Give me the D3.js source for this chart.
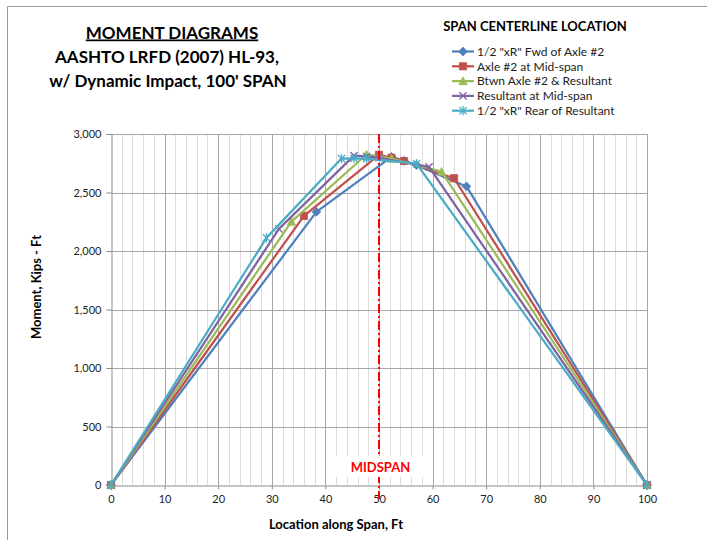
<!DOCTYPE html>
<html><head><meta charset="utf-8">
<script src="https://cdn.jsdelivr.net/npm/d3@7"></script>
<style>
html,body{margin:0;padding:0;background:#fff;}
svg{display:block;font-family:Lato,"Open Sans",sans-serif;}
</style></head>
<body><svg id="c" width="707" height="540"></svg>
<script>
const seriesNames = ['1/2 "xR" Fwd of Axle #2','Axle #2 at Mid-span','Btwn Axle #2 & Resultant','Resultant at Mid-span','1/2 "xR" Rear of Resultant'];
const blueX = [0, 38.33, 52.33, 54.67, 57, 66.33, 100];
const blueY = [0, 2335, 2804, 2771, 2734, 2552, 0];
const redX = [0, 36, 50, 52.33, 54.67, 64, 100];
const redY = [0, 2300, 2822, 2797, 2769, 2622, 0];
const greenX = [0, 33.67, 47.67, 50, 52.33, 61.67, 100];
const greenY = [0, 2251, 2825, 2809, 2790, 2678, 0];
const purpleX = [0, 31.33, 45.33, 47.67, 50, 59.33, 100];
const purpleY = [0, 2189, 2815, 2808, 2797, 2719, 0];
const cyanX = [0, 29, 43, 45.33, 47.67, 57, 100];
const cyanY = [0, 2112, 2790, 2792, 2790, 2747, 0];
const xTicks = [0,10,20,30,40,50,60,70,80,90,100];
const yTicks = [0,500,1000,1500,2000,2500,3000];
const midspanX = 50;

const colors = ['#4F81BD','#C0504D','#9BBB59','#8064A2','#4BACC6'];
const markers = ['diamond','square','triangle','x','star'];
const allX = [blueX, redX, greenX, purpleX, cyanX];
const allY = [blueY, redY, greenY, purpleY, cyanY];

const svg = d3.select('#c');
// outer frame
svg.append('line').attr('x1',7.5).attr('x2',707).attr('y1',6.5).attr('y2',6.5).attr('stroke','#9a9a9a').attr('stroke-width',1);
svg.append('line').attr('x1',7.5).attr('x2',7.5).attr('y1',6.5).attr('y2',540).attr('stroke','#9a9a9a').attr('stroke-width',1);

const x = d3.scaleLinear().domain([0,100]).range([111,647]);
const y = d3.scaleLinear().domain([0,3000]).range([485,134]);

// minor vertical grid
const minor = d3.range(2,100,2).filter(v => v%10 !== 0);
svg.append('g').selectAll('line').data(minor).join('line')
  .attr('x1',d=>Math.round(x(d))+0.5).attr('x2',d=>Math.round(x(d))+0.5)
  .attr('y1',y(3000)).attr('y2',y(0)).attr('stroke','#dcdcdc').attr('stroke-width',1);
// major vertical grid
svg.append('g').selectAll('line').data(xTicks.slice(1)).join('line')
  .attr('x1',d=>Math.round(x(d))+0.5).attr('x2',d=>Math.round(x(d))+0.5)
  .attr('y1',y(3000)).attr('y2',y(0)).attr('stroke','#a6a6a6').attr('stroke-width',1);
// horizontal grid
svg.append('g').selectAll('line').data(yTicks.slice(1)).join('line')
  .attr('x1',x(0)).attr('x2',x(100))
  .attr('y1',d=>Math.round(y(d))+0.5).attr('y2',d=>Math.round(y(d))+0.5)
  .attr('stroke','#a6a6a6').attr('stroke-width',1);

// axes
const xAxis = d3.axisBottom(x).tickValues(xTicks).tickSize(4).tickPadding(6);
const yAxis = d3.axisLeft(y).tickValues(yTicks).tickSize(5).tickPadding(5).tickFormat(d3.format(','));
const gx = svg.append('g').attr('transform',`translate(0,${Math.round(y(0))+0.5})`).call(xAxis);
const gy = svg.append('g').attr('transform',`translate(${Math.round(x(0))+0.5},0)`).call(yAxis);
[gx,gy].forEach(g=>{
  g.select('.domain').attr('stroke','#8c8c8c');
  g.selectAll('.tick line').attr('stroke','#8c8c8c');
  g.selectAll('.tick text').attr('fill','#222').attr('font-size','11px').attr('font-family','Lato, sans-serif');
});

function markerPath(type){
  const s = 3.6;
  switch(type){
    case 'diamond': return `M0,${-s-0.8}L${s+0.8},0L0,${s+0.8}L${-s-0.8},0Z`;
    case 'square': return `M${-s},${-s}H${s}V${s}H${-s}Z`;
    case 'triangle': return `M0,${-s-0.6}L${s+0.6},${s}L${-s-0.6},${s}Z`;
    case 'x': return `M${-s},${-s}L${s},${s}M${-s},${s}L${s},${-s}`;
    case 'star': return `M${-s},${-s}L${s},${s}M${-s},${s}L${s},${-s}M0,${-s-1}V${s+1}`;
  }
}

const line = d3.line().x(d=>x(d[0])).y(d=>y(d[1]));
allX.forEach((xs,i)=>{
  const pts = xs.map((v,j)=>[v, allY[i][j]]);
  const g = svg.append('g');
  g.append('path').attr('d',line(pts)).attr('fill','none').attr('stroke',colors[i]).attr('stroke-width',2.25).attr('stroke-linejoin','round');
  const isLine = markers[i]==='x'||markers[i]==='star';
  g.selectAll('path.m').data(pts).join('path').attr('class','m')
    .attr('transform',d=>`translate(${x(d[0])},${y(d[1])})`)
    .attr('d',markerPath(markers[i]))
    .attr('fill',isLine?'none':colors[i])
    .attr('stroke',colors[i]).attr('stroke-width',isLine?1.3:0.8);
});

// midspan dash-dot line
svg.append('line').attr('x1',x(midspanX)).attr('x2',x(midspanX)).attr('y1',y(3000)).attr('y2',y(0)+14)
  .attr('stroke','#FF0000').attr('stroke-width',2).attr('stroke-dasharray','9,3,2,3');
// label box
svg.append('rect').attr('x',x(midspanX)-44).attr('y',456).attr('width',88).attr('height',21).attr('fill','#fff');
svg.append('text').attr('x',x(midspanX)+1.5).attr('y',471.5).attr('text-anchor','middle')
  .attr('fill','#FF0000').attr('font-weight','bold').attr('font-size','13px').text('MIDSPAN');

// titles
const t = svg.append('text').attr('text-anchor','middle').attr('font-weight','bold').attr('font-size','17px').attr('fill','#000');
t.append('tspan').attr('x',172).attr('y',38.5).attr('text-decoration','underline').text('MOMENT DIAGRAMS');
t.append('tspan').attr('x',167).attr('y',62.5).text('AASHTO LRFD (2007) HL-93,');
t.append('tspan').attr('x',168).attr('y',86.5).text("w/ Dynamic Impact, 100' SPAN");

// axis titles
svg.append('text').attr('x',336).attr('y',529).attr('text-anchor','middle').attr('font-weight','bold').attr('font-size','13px').text('Location along Span, Ft');
svg.append('text').attr('transform','translate(41,287) rotate(-90)').attr('text-anchor','middle').attr('font-weight','bold').attr('font-size','13px').text('Moment, Kips - Ft');

// legend
svg.append('text').attr('x',535).attr('y',31).attr('text-anchor','middle').attr('font-weight','bold').attr('font-size','13px').text('SPAN CENTERLINE LOCATION');
const lg = svg.append('g');
seriesNames.forEach((n,i)=>{
  const yy = 51.5 + i*14.8;
  lg.append('line').attr('x1',452).attr('x2',474).attr('y1',yy).attr('y2',yy).attr('stroke',colors[i]).attr('stroke-width',2.25);
  const isLine = markers[i]==='x'||markers[i]==='star';
  lg.append('path').attr('transform',`translate(463,${yy})`).attr('d',markerPath(markers[i]))
    .attr('fill',isLine?'none':colors[i]).attr('stroke',colors[i]).attr('stroke-width',isLine?1.3:0.8);
  lg.append('text').attr('x',477).attr('y',yy+4.3).attr('font-size','12px').attr('fill','#222').text(n);
});
</script>
</body></html>
